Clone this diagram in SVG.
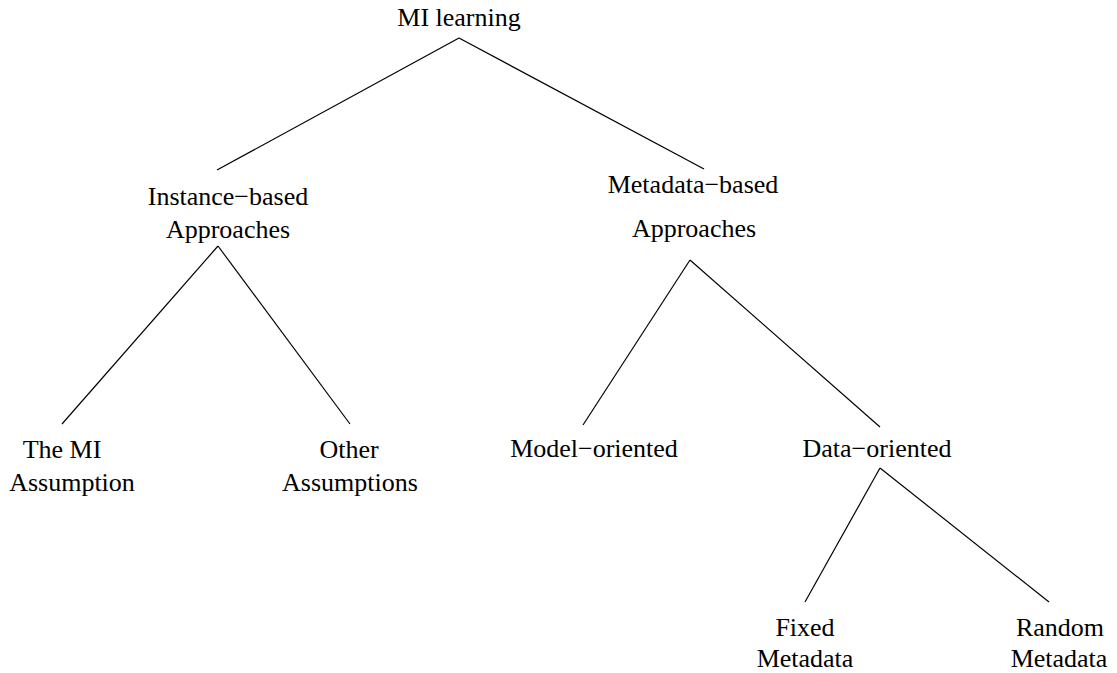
<svg xmlns="http://www.w3.org/2000/svg" width="1117" height="673" viewBox="0 0 1117 673">
<style>
text{font-family:"Liberation Serif","Times New Roman",serif;font-size:26px;fill:#000;text-anchor:middle}
line{stroke:#000;stroke-width:1.2}
</style>
<rect width="1117" height="673" fill="#fff"/>
<g id="connectors">
<line x1="459" y1="38" x2="217" y2="170"/>
<line x1="459" y1="38" x2="704" y2="169"/>
<line x1="218" y1="246" x2="62" y2="424"/>
<line x1="218" y1="246" x2="350" y2="424"/>
<line x1="690" y1="260" x2="583" y2="425"/>
<line x1="690" y1="260" x2="880" y2="427"/>
<line x1="880" y1="468" x2="805" y2="602"/>
<line x1="880" y1="468" x2="1049" y2="602"/>
</g>
<g id="root"><text x="459" y="26">MI learning</text></g>
<g id="instance"><text x="228" y="205">Instance−based</text><text x="228" y="238">Approaches</text></g>
<g id="metadata"><text x="693" y="193">Metadata−based</text><text x="694" y="237">Approaches</text></g>
<g id="mi-assumption"><text x="62" y="458">The MI</text><text x="72" y="491">Assumption</text></g>
<g id="other"><text x="349" y="458">Other</text><text x="350" y="491">Assumptions</text></g>
<g id="model"><text x="594" y="457">Model−oriented</text></g>
<g id="data"><text x="877" y="457">Data−oriented</text></g>
<g id="fixed"><text x="805" y="636">Fixed</text><text x="805" y="667">Metadata</text></g>
<g id="random"><text x="1060" y="636">Random</text><text x="1059" y="667">Metadata</text></g>
</svg>
